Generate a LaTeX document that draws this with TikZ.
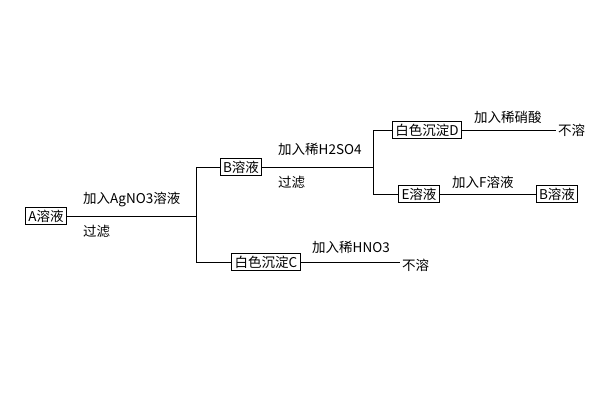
\documentclass[tikz,border=0pt]{standalone}
\usepackage{fontspec}
\setmainfont{Noto Sans CJK SC}
\begin{document}
\begin{tikzpicture}[x=1pt,y=-1pt,
  bx/.style={draw,line width=1pt,inner xsep=3pt,inner ysep=2.5pt,font=\fontsize{13.5}{13.5}\selectfont},
  lb/.style={font=\fontsize{13.5}{13.5}\selectfont,inner sep=0pt,anchor=west},
  ln/.style={line width=0.8pt}]
\useasboundingbox (0,0) rectangle (600,400);
\fill[white] (0,0) rectangle (600,400);
\node[bx] (A) at (46,216) {A溶液};
\coordinate (j1) at (196,216);
\coordinate (j1t) at (196,167);
\coordinate (j1b) at (196,262);
\node[bx] (B) at (241,167) {B溶液};
\node[bx] (C) at (266,262) {白色沉淀C};
\coordinate (j2) at (373,167);
\coordinate (j2t) at (373,130);
\coordinate (j2b) at (373,194);
\node[bx] (D) at (427,130) {白色沉淀D};
\node[bx] (E) at (419,194) {E溶液};
\node[bx] (B2) at (557,194) {B溶液};
\node[lb] (n1) at (558,130) {不溶};
\node[lb] (n2) at (402,265) {不溶};
\coordinate (n1w) at (556,130);
\coordinate (n2w) at (400,262);
\draw[ln] (A) -- (j1);
\draw[ln] (j1t) -- (j1b);
\draw[ln] (j1t) -- (B);
\draw[ln] (j1b) -- (C);
\draw[ln] (B) -- (j2);
\draw[ln] (j2t) -- (j2b);
\draw[ln] (j2t) -- (D);
\draw[ln] (j2b) -- (E);
\draw[ln] (D) -- (n1w);
\draw[ln] (E) -- (B2);
\draw[ln] (C) -- (n2w);
\node[lb] (l1) at (83,199) {加入AgNO3溶液};
\node[lb] (l2) at (83,231) {过滤};
\node[lb] (l3) at (278,149) {加入稀H2SO4};
\node[lb] (l4) at (278,182) {过滤};
\node[lb] (l5) at (474,117) {加入稀硝酸};
\node[lb] (l6) at (452,182) {加入F溶液};
\node[lb] (l7) at (312,247) {加入稀HNO3};
\end{tikzpicture}
\end{document}
